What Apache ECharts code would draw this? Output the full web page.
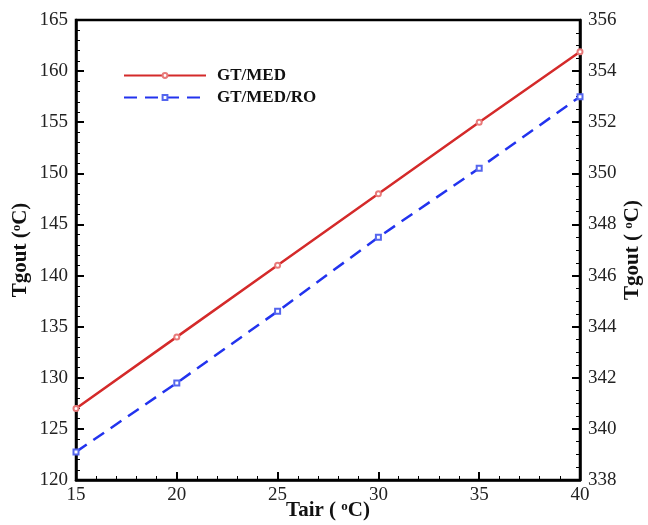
<!DOCTYPE html>
<html>
<head>
<meta charset="utf-8">
<script src="https://cdn.jsdelivr.net/npm/echarts@6/dist/echarts.min.js"></script>
<style>
  html, body { margin: 0; padding: 0; background: #fff; }
  #chart { width: 648px; height: 525px; }
</style>
</head>
<body>
<div id="chart"></div>
<script>
// Outlet gas temperature versus ambient air temperature
const tair = [15, 20, 25, 30, 35, 40];
const gtMed = [127.0, 134.0, 141.0, 148.0, 155.0, 161.9];      // left axis
const gtMedRo = [339.1, 341.8, 344.6, 347.5, 350.2, 353.0];    // right axis

const serif = '"Liberation Serif", "DejaVu Serif", serif';
const ink = '#111';

const nameRich = {
  sup: { fontFamily: serif, fontWeight: 'bold', fontSize: 13, color: ink, padding: [0, 0, 9, 0] }
};

function valueAxis(opts) {
  return Object.assign({
    type: 'value',
    axisLine: { show: true, onZero: false, lineStyle: { color: '#000', width: 2.5 } },
    axisTick: { show: true, inside: true, length: 8, lineStyle: { color: '#000', width: 2 } },
    minorTick: { show: true, length: 4, lineStyle: { color: '#000', width: 1 } },
    splitLine: { show: false },
    axisLabel: { fontFamily: serif, fontSize: 19, color: '#222', margin: 8 },
    nameLocation: 'middle',
    nameMoveOverlap: false,
    nameTextStyle: { fontFamily: serif, fontWeight: 'bold', fontSize: 21, color: ink, rich: nameRich }
  }, opts);
}

const chart = echarts.init(document.getElementById('chart'), null, { renderer: 'canvas' });
chart.setOption({
  animation: false,
  backgroundColor: '#fff',
  grid: {
    left: 76, right: 68, top: 20, bottom: 45,
    outerBoundsMode: 'none',
    show: true, borderColor: '#000', borderWidth: 2.5
  },
  legend: {
    orient: 'vertical',
    left: 118,
    top: 62,
    itemWidth: 82,
    itemHeight: 6,
    itemGap: 5,
    textStyle: { fontFamily: serif, fontWeight: 'bold', fontSize: 17, color: ink, padding: [0, 0, 0, 6] },
    data: ['GT/MED', 'GT/MED/RO']
  },
  xAxis: valueAxis({
    min: 15, max: 40, interval: 5,
    minorTick: { show: true, splitNumber: 5, length: 4, lineStyle: { color: '#000', width: 1 } },
    axisLabel: { fontFamily: serif, fontSize: 19, color: '#222', margin: 6 },
    name: 'Tair ( {sup|o}C)',
    nameGap: 20
  }),
  yAxis: [
    valueAxis({
      min: 120, max: 165, interval: 5,
      minorTick: { show: true, splitNumber: 5, length: 4, lineStyle: { color: '#000', width: 1 } },
      name: 'Tgout ({sup|o}C)',
      nameGap: 44,
      nameRotate: 90
    }),
    valueAxis({
      min: 338, max: 356, interval: 2,
      position: 'right',
      minorTick: { show: true, splitNumber: 4, length: 4, lineStyle: { color: '#000', width: 1 } },
      name: 'Tgout ( {sup|o}C)',
      nameGap: 42,
      nameRotate: 90
    })
  ],
  series: [
    {
      name: 'GT/MED',
      type: 'line',
      yAxisIndex: 0,
      data: tair.map((x, i) => [x, gtMed[i]]),
      symbol: 'emptyCircle',
      symbolSize: 5,
      lineStyle: { color: '#d42a2a', width: 2.5 },
      itemStyle: { color: '#e87a7a', borderColor: '#e87a7a', borderWidth: 1 },
      z: 3
    },
    {
      name: 'GT/MED/RO',
      type: 'line',
      yAxisIndex: 1,
      data: tair.map((x, i) => [x, gtMedRo[i]]),
      symbol: 'emptyRect',
      symbolSize: 5,
      lineStyle: { color: '#2233ee', width: 2.5, type: [13, 8] },
      itemStyle: { color: '#5566ee', borderColor: '#5566ee', borderWidth: 1 },
      z: 2
    }
  ]
});
</script>
</body>
</html>
